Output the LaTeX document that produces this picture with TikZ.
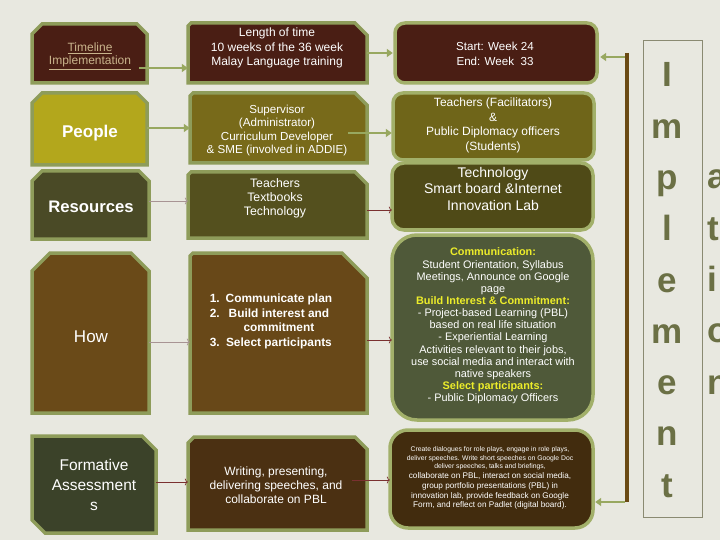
\documentclass[tikz,border=0pt]{standalone}
\usepackage{fontspec}
\setmainfont{Liberation Sans}
\usetikzlibrary{arrows.meta}
\definecolor{bg}{HTML}{E8E8E0}
\definecolor{bord}{HTML}{8E9C5A}
\definecolor{bordr}{HTML}{A2B06A}
\definecolor{maroon}{HTML}{4A1E14}
\definecolor{peoplec}{HTML}{B3A71C}
\definecolor{supc}{HTML}{786A1A}
\definecolor{tfc}{HTML}{6F6519}
\definecolor{resc}{HTML}{4A4A26}
\definecolor{tttc}{HTML}{54501E}
\definecolor{techc}{HTML}{4F4A17}
\definecolor{howc}{HTML}{6A4A18}
\definecolor{comc}{HTML}{684818}
\definecolor{cmc}{HTML}{4F5939}
\definecolor{formc}{HTML}{3B4229}
\definecolor{wric}{HTML}{4B3012}
\definecolor{cdc}{HTML}{422C0E}
\definecolor{tanc}{HTML}{C9B48C}
\definecolor{yel}{HTML}{EDED2A}
\definecolor{letc}{HTML}{6B7045}
\definecolor{agreen}{HTML}{98A860}
\definecolor{thingray}{HTML}{A89494}
\definecolor{darkred}{HTML}{7A3030}
\definecolor{vline}{HTML}{6A4A14}
\definecolor{ibox}{HTML}{8A8A72}
% x1 y1 x2 y2 tl tr br bl style
\newcommand\chbox[9]{\filldraw[#9] (#1+#5,#2) -- (#3-#6,#2) -- (#3,#2+#6) -- (#3,#4-#7) -- (#3-#7,#4) -- (#1+#8,#4) -- (#1,#4-#8) -- (#1,#2+#5) -- cycle;}
\newcommand\smtxt[1]{{\fontsize{6.8}{8.6}\selectfont #1}}
\begin{document}
\begin{tikzpicture}[x=1pt,y=-1pt,
  bx/.style={inner sep=0pt, draw=none},
  tx/.style={text=white, align=center, inner sep=0pt},
  cb/.style={draw=bord, line width=3.5pt, line join=miter, fill=#1},
  rb/.style={draw=bordr, line width=3.5pt, fill=#1},
  garrow/.style={draw=agreen, line width=2.8pt, -{Triangle[length=6pt,width=8pt]}},
  tarrow/.style={draw=#1, line width=0.7pt, -{To[length=3pt,width=7pt]}},
  letter/.style={text=letc, font=\fontsize{35}{35}\selectfont\bfseries, inner sep=0pt}
]
\useasboundingbox (0,0) rectangle (720,540);
\fill[bg] (0,0) rectangle (720,540);

% left column
\chbox{32}{24}{147}{83}{10}{10}{0}{0}{cb=maroon}
\chbox{32}{93}{147}{165}{10}{10}{0}{0}{cb=peoplec}
\chbox{32}{171}{149}{239}{10}{10}{0}{0}{cb=resc}
\chbox{32}{253}{149}{413}{18}{18}{0}{0}{cb=howc}
\chbox{32}{436}{156}{533}{0}{14}{0}{13}{cb=formc}
% middle column
\chbox{188}{23}{367}{83}{3}{12}{0}{0}{cb=maroon}
\chbox{190}{93}{367}{163}{3}{12}{0}{0}{cb=supc}
\chbox{188}{172}{367}{238}{3}{12}{0}{0}{cb=tttc}
\chbox{190}{253}{367}{413}{3}{25}{0}{0}{cb=comc}
\chbox{188}{437}{367}{530}{6}{12}{0}{0}{cb=wric}
% right column
\filldraw[rb=maroon, rounded corners=10pt] (395,23) rectangle (597,83);
\filldraw[rb=tfc, rounded corners=10pt] (393,93) rectangle (594,160);
\filldraw[rb=techc, rounded corners=12pt] (392,163) rectangle (593,230);
\filldraw[rb=cmc, rounded corners=25pt] (392,235) rectangle (593,420);
\filldraw[rb=cdc, rounded corners=18pt] (390,430) rectangle (593,528);

% box nodes
\node[bx, minimum width=115, minimum height=59] (tl) at (89.5,53.5) {};
\node[bx, minimum width=115, minimum height=72] (people) at (89.5,129) {};
\node[bx, minimum width=117, minimum height=68] (res) at (90.5,205) {};
\node[bx, minimum width=117, minimum height=160] (how) at (90.5,333) {};
\node[bx, minimum width=124, minimum height=97] (form) at (94,484.5) {};
\node[bx, minimum width=179, minimum height=60] (len) at (277.5,53) {};
\node[bx, minimum width=177, minimum height=70] (sup) at (278.5,128) {};
\node[bx, minimum width=179, minimum height=66] (ttt) at (277.5,205) {};
\node[bx, minimum width=177, minimum height=160] (com) at (278.5,333) {};
\node[bx, minimum width=179, minimum height=93] (wri) at (277.5,483.5) {};
\node[bx, minimum width=202, minimum height=60] (se) at (496,53) {};
\node[bx, minimum width=201, minimum height=67] (tf) at (493.5,126.5) {};
\node[bx, minimum width=201, minimum height=67] (tech) at (492.5,196.5) {};
\node[bx, minimum width=201, minimum height=185] (cm) at (492.5,327.5) {};
\node[bx, minimum width=203, minimum height=98] (cd) at (491.5,479) {};

% texts
\node[tx, text=tanc, font=\fontsize{12}{13.5}\selectfont] (tlT) at (90,56) {\underline{Timeline}\\\underline{Implementation}};
\node[tx, font=\fontsize{17}{20}\selectfont\bfseries] (peopleT) at (90,133) {People};
\node[tx, font=\fontsize{16.7}{20}\selectfont\bfseries] (resT) at (91,207) {Resources};
\node[tx, font=\fontsize{17}{20}\selectfont] (howT) at (91,337) {How};
\node[tx, font=\fontsize{15.5}{20}\selectfont] (formT) at (94,485) {Formative\\Assessment\\s};

\node[tx, font=\fontsize{12}{14.8}\selectfont] (lenT) at (277,48) {Length of time\\10 weeks of the 36 week\\Malay Language training};
\node[tx, font=\fontsize{11.6}{13.6}\selectfont] (supT) at (277,130.5) {Supervisor\\(Administrator)\\Curriculum Developer\\\& SME (involved in ADDIE)};
\node[tx, font=\fontsize{12.3}{14}\selectfont] (tttT) at (275,198) {Teachers\\Textbooks\\Technology};
\node[tx, font=\fontsize{11.9}{14.5}\selectfont\bfseries] (comT) at (271,321.5) {\begin{tabular}{@{}r@{\hspace{6pt}}c@{}}1.&Communicate plan\\2.&Build interest and\\&commitment\\3.&Select participants\end{tabular}};
\node[tx, font=\fontsize{12}{14}\selectfont] (wriT) at (276,485) {Writing, presenting,\\delivering speeches, and\\collaborate on PBL};

\node[tx, font=\fontsize{11.6}{15}\selectfont] (seT) at (495,53.5) {Start: Week 24\\End: Week\ \ 33};
\node[tx, font=\fontsize{12}{14.5}\selectfont] (tfT) at (493,125.5) {Teachers (Facilitators)\\\&\\Public Diplomacy officers\\(Students)};
\node[tx, font=\fontsize{14}{16.5}\selectfont] (techT) at (493,188.5) {Technology\\Smart board \&Internet\\Innovation Lab};
\node[tx, font=\fontsize{10.9}{12.15}\selectfont] (cmT) at (493,326) {\textcolor{yel}{\bfseries Communication:}\\Student Orientation, Syllabus\\Meetings, Announce on Google\\page\\\textcolor{yel}{\bfseries Build Interest \& Commitment:}\\- Project-based Learning (PBL)\\based on real life situation\\- Experiential Learning\\Activities relevant to their jobs,\\use social media and interact with\\native speakers\\\textcolor{yel}{\bfseries Select participants:}\\- Public Diplomacy Officers};
\node[tx, font=\fontsize{8.2}{9.8}\selectfont] (cdT) at (490,478) {\smtxt{Create dialogues for role plays, engage in role plays,}\\[-1.2pt]\smtxt{deliver speeches. Write short speeches on Google Doc}\\[-1.2pt]\smtxt{deliver speeches, talks and briefings,}\\collaborate on PBL, interact on social media,\\group portfolio presentations (PBL) in\\innovation lab, provide feedback on Google\\Form, and reflect on Padlet (digital board).};

% connectors
\draw[garrow] ([xshift=-8pt,yshift=-14.5pt]tl.east) coordinate (a1) -- (a1 -| len.west);
\draw[garrow] (len.east) -- ([xshift=-2pt]se.west);
\draw[garrow] ([yshift=1pt]people.east) coordinate (a3) -- (a3 -| sup.west);
\draw[garrow] ([xshift=-19pt,yshift=-5pt]sup.east) coordinate (a4) -- ([xshift=-1pt]a4 -| tf.west);
\draw[tarrow=thingray] ([yshift=4pt]res.east) coordinate (a5) -- (a5 -| ttt.west);
\draw[tarrow=darkred] ([yshift=-5pt]ttt.east) coordinate (a6) -- (a6 -| tech.west);
\draw[tarrow=thingray] ([yshift=-9pt]how.east) coordinate (a7) -- (a7 -| com.west);
\draw[tarrow=darkred] ([yshift=-7pt]com.east) coordinate (a8) -- (a8 -| cm.west);
\draw[tarrow=darkred] ([yshift=2.5pt]form.east) coordinate (a9) -- (a9 -| wri.west);
\draw[tarrow=darkred] ([xshift=-15pt,yshift=3.5pt]wri.east) coordinate (a10) -- (a10 -| cd.west);

% vertical line and return arrows
\coordinate (vtop) at (627,53);
\coordinate (vbot) at (627,502);
\draw[vline, line width=4pt] (vtop) -- (vbot);
\draw[garrow, line width=2.5pt] ([xshift=-2pt,yshift=-4pt]vtop) -- ([xshift=3pt,yshift=-4pt]se.east);
\draw[garrow, line width=2.5pt] ([xshift=-2pt]vbot) -- ([xshift=2pt]vbot -| cd.east);

% Implementation letters
\node[draw=ibox, line width=0.8pt, minimum width=59, minimum height=477, inner sep=0pt] (implbox) at (672.5,278.5) {};
\begin{scope}
\clip (0,0) rectangle (720,540);
\foreach \ch [count=\i] in {I,m,p,l,e,m,e,n,t}
  \node[letter, anchor=base] (L\i) at (667,{87+51.25*(\i-1)}) {\ch};
\foreach \ch [count=\i] in {a,t,i,o,n}
  \node[letter, anchor=base west] (M\i) at (707,{189+51.25*(\i-1)}) {\ch};
\end{scope}
\end{tikzpicture}
\end{document}
